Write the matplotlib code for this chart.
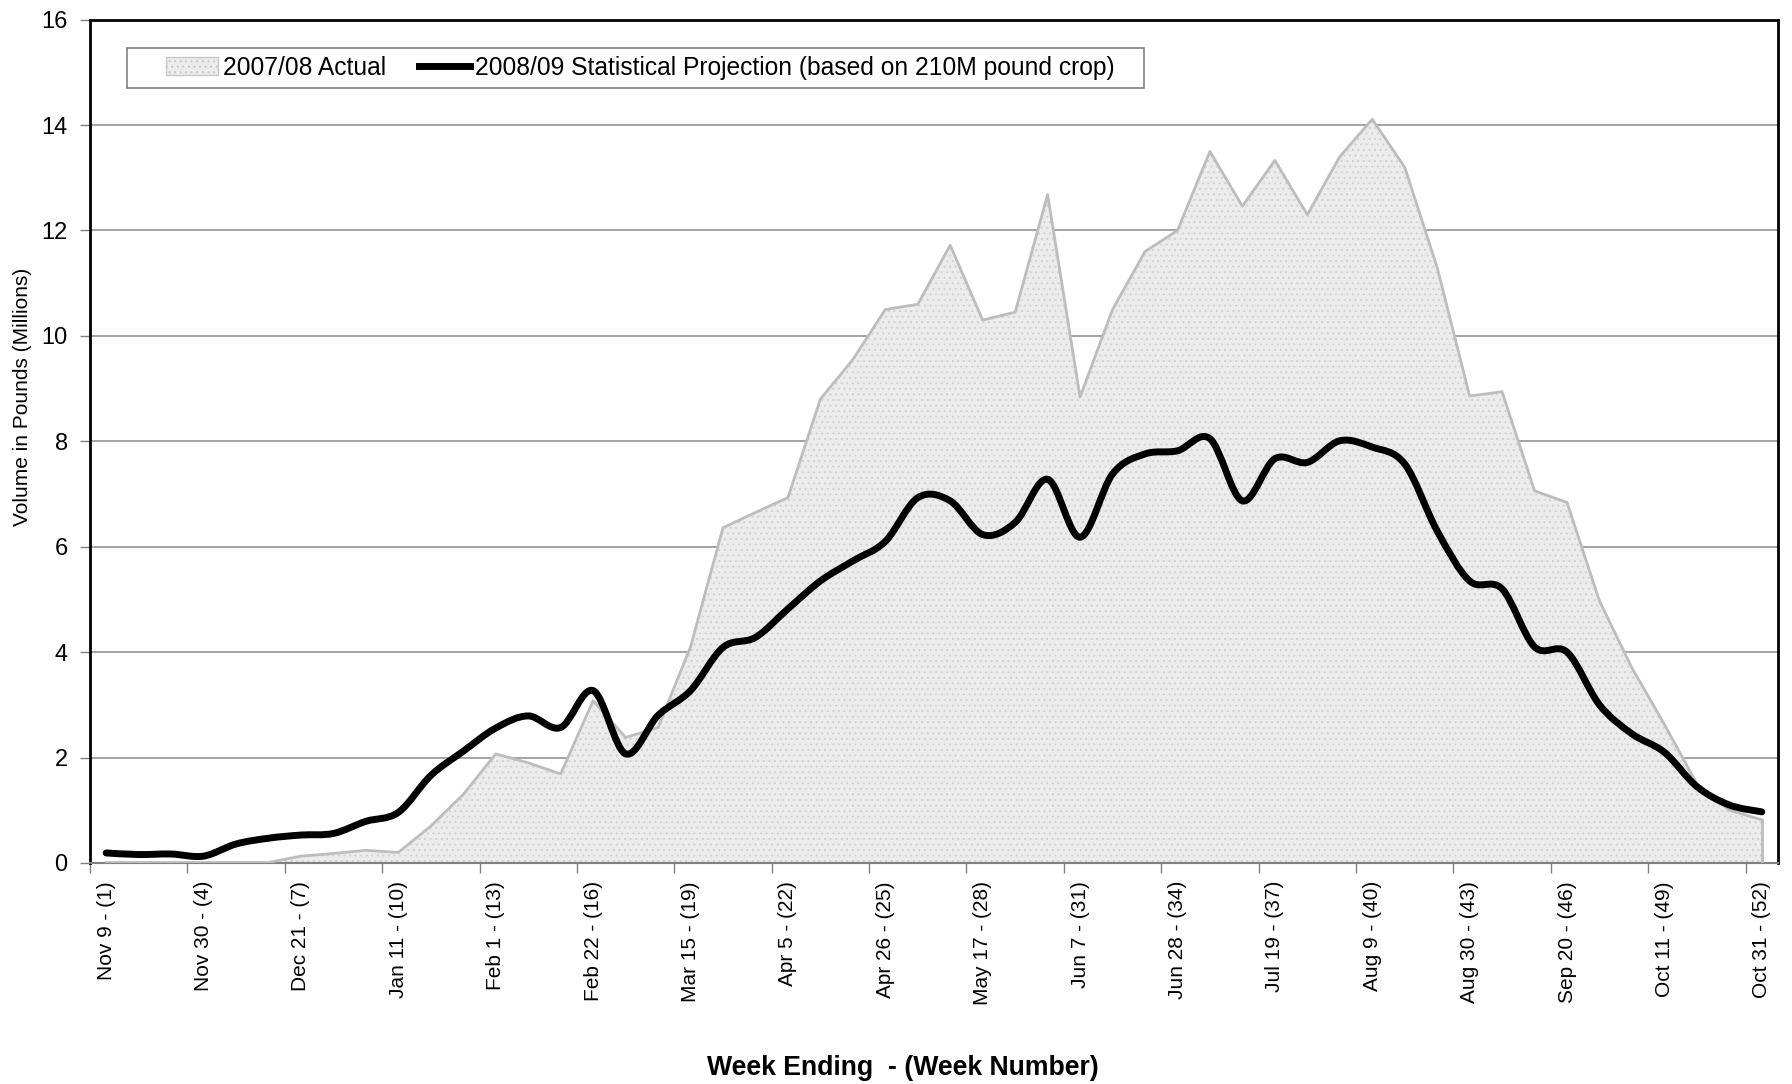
import matplotlib
matplotlib.use("Agg")
import matplotlib.pyplot as plt
from matplotlib.path import Path
from matplotlib.patches import PathPatch, Patch, Rectangle
from matplotlib.lines import Line2D
import numpy as np

plt.rcParams['font.family'] = ['Liberation Sans', 'DejaVu Sans']
plt.rcParams['hatch.linewidth'] = 0.8

weeks = np.arange(1, 53)

actual_0708 = [0.01, 0.01, 0.01, 0.01, 0.01, 0.01, 0.13, 0.18, 0.24, 0.20,
               0.70, 1.30, 2.07, 1.90, 1.69, 3.08, 2.38, 2.57, 4.10, 6.36,
               6.65, 6.93, 8.80, 9.55, 10.50, 10.60, 11.72, 10.30, 10.45, 12.68,
               8.84, 10.50, 11.60, 12.00, 13.50, 12.46, 13.33, 12.30, 13.40, 14.11,
               13.20, 11.30, 8.86, 8.94, 7.06, 6.84, 4.97, 3.70, 2.63, 1.50,
               1.00, 0.82]

projection_0809 = [0.19, 0.16, 0.17, 0.13, 0.36, 0.47, 0.53, 0.56, 0.79, 0.96,
                   1.66, 2.12, 2.56, 2.79, 2.57, 3.27, 2.07, 2.80, 3.27, 4.09,
                   4.28, 4.82, 5.35, 5.73, 6.10, 6.93, 6.87, 6.23, 6.46, 7.28,
                   6.18, 7.38, 7.76, 7.82, 8.05, 6.87, 7.67, 7.60, 8.01, 7.89,
                   7.57, 6.30, 5.35, 5.20, 4.10, 4.00, 3.00, 2.45, 2.10, 1.45,
                   1.10, 0.97]

tick_weeks = [1, 4, 7, 10, 13, 16, 19, 22, 25, 28, 31, 34, 37, 40, 43, 46, 49, 52]
tick_labels = ["Nov 9 - (1)", "Nov 30 - (4)", "Dec 21 - (7)", "Jan 11 - (10)",
               "Feb 1 - (13)", "Feb 22 - (16)", "Mar 15 - (19)", "Apr 5 - (22)",
               "Apr 26 - (25)", "May 17 - (28)", "Jun 7 - (31)", "Jun 28 - (34)",
               "Jul 19 - (37)", "Aug 9 - (40)", "Aug 30 - (43)", "Sep 20 - (46)",
               "Oct 11 - (49)", "Oct 31 - (52)"]


def smooth_path(x, y):
    # Excel-style smoothed line: cubic Bezier segments through every point
    pts = np.column_stack([x, y]).astype(float)
    ext = np.vstack([pts[0], pts, pts[-1]])
    verts = [pts[0]]
    codes = [Path.MOVETO]
    for i in range(1, len(ext) - 2):
        p0, p1, p2, p3 = ext[i - 1], ext[i], ext[i + 1], ext[i + 2]
        verts += [p1 + (p2 - p0) / 6.0, p2 - (p3 - p1) / 6.0, p2]
        codes += [Path.CURVE4] * 3
    return Path(verts, codes)


W, H = 1792, 1084
fig = plt.figure(figsize=(W / 100, H / 100), dpi=100)
ax = fig.add_axes([0.0502, 0.2039, 0.9420, 0.7780])

# 2007/08 area
ax.fill_between(weeks, actual_0708, 0, facecolor='#ececec', edgecolor='#d2d2d2',
                hatch='...', linewidth=0, zorder=2)
ax.plot(weeks, actual_0708, color='#bdbdbd', lw=2, zorder=3)
ax.plot([weeks[-1], weeks[-1]], [0, actual_0708[-1]], color='#bdbdbd', lw=2, zorder=3)

# 2008/09 projection (smoothed)
ax.add_patch(PathPatch(smooth_path(weeks, projection_0809), facecolor='none',
                       edgecolor='black', lw=5, capstyle='round',
                       joinstyle='round', zorder=4))

ax.set_xlim(0.5, 52.5)
ax.set_ylim(0, 16)
ax.set_yticks(np.arange(0, 17, 2))
ax.yaxis.grid(True, color='#8a8a8a', lw=1.1)
ax.set_axisbelow(True)

ax.set_xticks(tick_weeks)
ax.set_xticklabels(tick_labels, rotation=90, fontsize=15)
ax.set_xticks(np.arange(0.5, 52, 3), minor=True)
ax.tick_params(axis='x', which='major', length=0, pad=13)
ax.tick_params(axis='x', which='minor', length=7, width=1, color='#808080')
ax.tick_params(axis='y', length=7, width=1, color='#808080', pad=9, labelsize=17)

for side in ['left', 'top', 'right']:
    ax.spines[side].set_color('black')
    ax.spines[side].set_linewidth(2)
ax.spines['bottom'].set_color('#808080')
ax.spines['bottom'].set_linewidth(1.5)

fig.text(23 / W, 0.634, "Volume in Pounds (Millions)", rotation=90,
         ha='center', va='center', fontsize=15)
fig.text(903 / W, 1 - 1068 / H, "Week Ending  - (Week Number)",
         ha='center', va='center', fontsize=19.2, fontweight='bold')

# legend frame drawn separately (Excel-style wide left padding)
ax.add_patch(Rectangle((127 / W, 1 - 88 / H), (1144 - 127) / W, 40 / H,
                       transform=fig.transFigure, facecolor='white',
                       edgecolor='#808080', lw=1.2, zorder=5, clip_on=False))
handles = [Patch(facecolor='#ececec', edgecolor='#c8c8c8', hatch='...'),
           Line2D([0], [0], color='black', lw=5)]
leg = ax.legend(handles, ["2007/08 Actual",
                          "2008/09 Statistical Projection (based on 210M pound crop)"],
                loc='center left', bbox_to_anchor=((166 - 90) / 1688, (863 - 68) / 843),
                borderaxespad=0, ncol=2, fontsize=17.7, frameon=False,
                handlelength=2.1, handletextpad=0.2, columnspacing=1.35, borderpad=0)
leg.set_zorder(6)

fig.savefig('out.png', dpi=100)
